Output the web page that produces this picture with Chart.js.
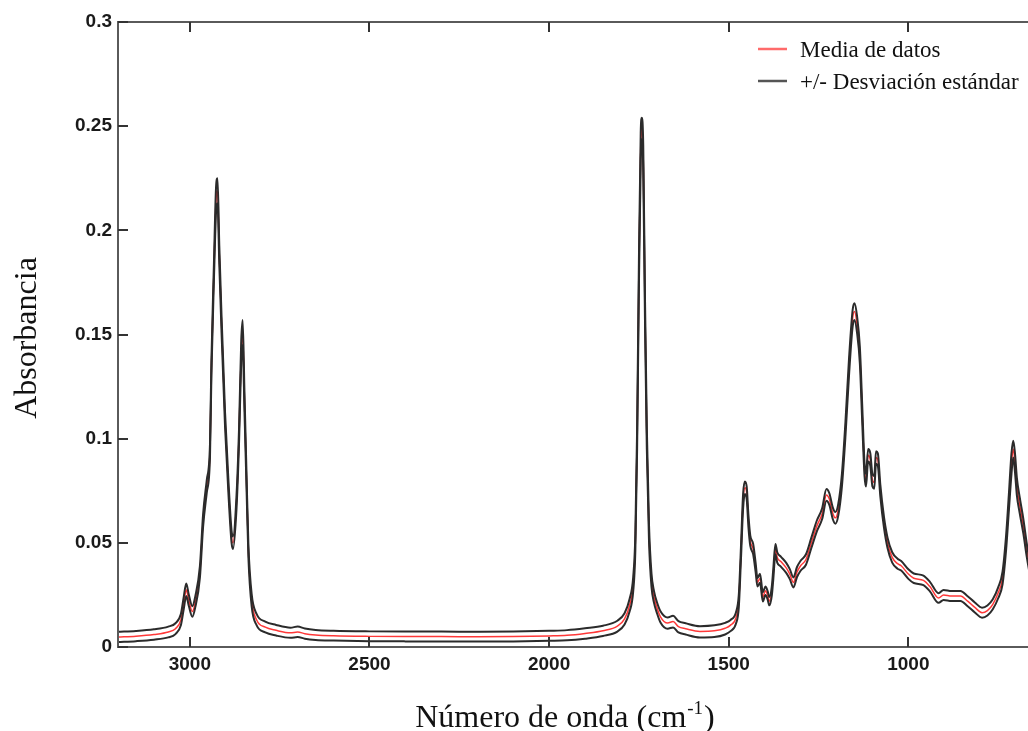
<!DOCTYPE html>
<html lang="es">
<head>
<meta charset="utf-8">
<title>Espectro FTIR</title>
<script src="https://cdn.jsdelivr.net/npm/chart.js@4.4.1/dist/chart.umd.min.js"></script>
<style>
  html, body { margin: 0; padding: 0; background: #fff; }
  #wrap { width: 1028px; height: 731px; position: relative; }
</style>
</head>
<body>
<div id="wrap"><canvas id="espectro"></canvas></div>
<script>
// Número de onda (cm-1)
const numeroOnda = [
  3200, 3150, 3100, 3060, 3040, 3025, 3017, 3010, 3003, 2993,
  2985, 2972, 2963, 2953, 2944, 2940, 2933, 2927, 2923, 2918,
  2912, 2902, 2893, 2884, 2880, 2870, 2863, 2857, 2853, 2848,
  2842, 2837, 2828, 2814, 2790, 2760, 2720, 2700, 2680, 2650,
  2600, 2500, 2400, 2300, 2200, 2100, 2000, 1950, 1900, 1850,
  1810, 1790, 1776, 1766, 1760, 1755, 1750, 1745, 1742, 1738,
  1733, 1728, 1722, 1715, 1708, 1700, 1690, 1670, 1655, 1640,
  1620, 1580, 1540, 1510, 1495, 1480, 1472, 1466, 1460, 1455,
  1450, 1445, 1440, 1432, 1425, 1420, 1413, 1405, 1398, 1392,
  1387, 1380, 1376, 1370, 1365, 1355, 1340, 1330, 1320, 1310,
  1300, 1285, 1270, 1255, 1240, 1228, 1220, 1210, 1203, 1195,
  1185, 1175, 1165, 1155, 1150, 1143, 1135, 1128, 1122, 1118,
  1112, 1106, 1100, 1095, 1090, 1085, 1078, 1068, 1058, 1045,
  1030, 1020, 1000, 985, 958, 940, 916, 902, 880, 855,
  835, 815, 795, 780, 765, 750, 738, 728, 720, 713,
  708, 703, 698, 690, 680, 670, 660
];

// Media de datos
const media = [
  0.0048, 0.0052, 0.0060, 0.0072, 0.0088, 0.0130, 0.0210, 0.0275, 0.0225, 0.0170,
  0.0215, 0.0360, 0.0610, 0.0770, 0.0940, 0.1340, 0.1800, 0.2150, 0.2190, 0.1880,
  0.1560, 0.1090, 0.0780, 0.0530, 0.0500, 0.0700, 0.1020, 0.1420, 0.1510, 0.1180,
  0.0780, 0.0460, 0.0225, 0.0130, 0.0095, 0.0080, 0.0068, 0.0072, 0.0064, 0.0058,
  0.0054, 0.0051, 0.0050, 0.0050, 0.0049, 0.0050, 0.0053, 0.0056, 0.0065, 0.0078,
  0.0100, 0.0135, 0.0200, 0.0300, 0.0500, 0.1000, 0.1800, 0.2400, 0.2490, 0.2350,
  0.1600, 0.1000, 0.0550, 0.0320, 0.0240, 0.0190, 0.0145, 0.0115, 0.0122, 0.0098,
  0.0088, 0.0075, 0.0078, 0.0090, 0.0105, 0.0140, 0.0220, 0.0450, 0.0700, 0.0765,
  0.0740, 0.0600, 0.0510, 0.0470, 0.0380, 0.0310, 0.0330, 0.0240, 0.0270, 0.0250,
  0.0220, 0.0270, 0.0350, 0.0470, 0.0430, 0.0410, 0.0380, 0.0350, 0.0310, 0.0360,
  0.0390, 0.0420, 0.0500, 0.0580, 0.0640, 0.0730, 0.0710, 0.0640, 0.0620, 0.0660,
  0.0800, 0.1050, 0.1350, 0.1580, 0.1610, 0.1550, 0.1400, 0.1100, 0.0850, 0.0800,
  0.0920, 0.0900, 0.0800, 0.0790, 0.0910, 0.0900, 0.0750, 0.0600, 0.0500, 0.0430,
  0.0400, 0.0390, 0.0350, 0.0330, 0.0320, 0.0290, 0.0235, 0.0250, 0.0245, 0.0245,
  0.0220, 0.0190, 0.0165, 0.0175, 0.0205, 0.0260, 0.0330, 0.0500, 0.0700, 0.0880,
  0.0950, 0.0880, 0.0770, 0.0680, 0.0580, 0.0460, 0.0360
];

// +/- Desviación estándar (curva superior)
const desvSup = [
  0.0073, 0.0077, 0.0085, 0.0098, 0.0114, 0.0158, 0.0240, 0.0305, 0.0252, 0.0196,
  0.0242, 0.0388, 0.0640, 0.0800, 0.0972, 0.1375, 0.1840, 0.2210, 0.2250, 0.1925,
  0.1600, 0.1125, 0.0812, 0.0560, 0.0530, 0.0732, 0.1055, 0.1470, 0.1570, 0.1225,
  0.0815, 0.0490, 0.0255, 0.0158, 0.0122, 0.0106, 0.0093, 0.0098, 0.0089, 0.0082,
  0.0078, 0.0075, 0.0074, 0.0074, 0.0073, 0.0074, 0.0078, 0.0081, 0.0090, 0.0102,
  0.0126, 0.0162, 0.0230, 0.0335, 0.0540, 0.1050, 0.1860, 0.2470, 0.2540, 0.2410,
  0.1660, 0.1050, 0.0590, 0.0352, 0.0268, 0.0216, 0.0172, 0.0142, 0.0150, 0.0124,
  0.0114, 0.0100, 0.0104, 0.0116, 0.0130, 0.0166, 0.0250, 0.0480, 0.0735, 0.0795,
  0.0770, 0.0628, 0.0535, 0.0495, 0.0402, 0.0330, 0.0352, 0.0262, 0.0290, 0.0270,
  0.0240, 0.0292, 0.0375, 0.0495, 0.0455, 0.0434, 0.0404, 0.0374, 0.0334, 0.0384,
  0.0414, 0.0445, 0.0525, 0.0606, 0.0666, 0.0758, 0.0738, 0.0668, 0.0648, 0.0688,
  0.0830, 0.1085, 0.1390, 0.1620, 0.1650, 0.1590, 0.1440, 0.1140, 0.0880, 0.0830,
  0.0950, 0.0930, 0.0830, 0.0820, 0.0940, 0.0930, 0.0778, 0.0626, 0.0525, 0.0455,
  0.0424, 0.0413, 0.0373, 0.0353, 0.0343, 0.0313, 0.0258, 0.0274, 0.0269, 0.0269,
  0.0244, 0.0214, 0.0189, 0.0199, 0.0229, 0.0286, 0.0360, 0.0535, 0.0740, 0.0930,
  0.0990, 0.0925, 0.0812, 0.0718, 0.0615, 0.0492, 0.0390
];

// +/- Desviación estándar (curva inferior)
const desvInf = [
  0.0024, 0.0028, 0.0035, 0.0046, 0.0062, 0.0104, 0.0182, 0.0245, 0.0198, 0.0145,
  0.0190, 0.0333, 0.0580, 0.0740, 0.0908, 0.1305, 0.1760, 0.2090, 0.2130, 0.1835,
  0.1520, 0.1055, 0.0748, 0.0502, 0.0470, 0.0668, 0.0985, 0.1370, 0.1450, 0.1135,
  0.0745, 0.0430, 0.0196, 0.0104, 0.0070, 0.0055, 0.0044, 0.0048, 0.0040, 0.0034,
  0.0031, 0.0028, 0.0027, 0.0027, 0.0026, 0.0027, 0.0030, 0.0032, 0.0040, 0.0053,
  0.0074, 0.0108, 0.0170, 0.0265, 0.0460, 0.0950, 0.1740, 0.2330, 0.2440, 0.2290,
  0.1540, 0.0950, 0.0510, 0.0288, 0.0212, 0.0164, 0.0118, 0.0088, 0.0094, 0.0070,
  0.0060, 0.0046, 0.0048, 0.0060, 0.0076, 0.0112, 0.0190, 0.0420, 0.0665, 0.0735,
  0.0710, 0.0572, 0.0485, 0.0445, 0.0358, 0.0290, 0.0308, 0.0218, 0.0250, 0.0230,
  0.0200, 0.0248, 0.0325, 0.0445, 0.0405, 0.0386, 0.0356, 0.0326, 0.0286, 0.0336,
  0.0366, 0.0395, 0.0475, 0.0554, 0.0614, 0.0702, 0.0682, 0.0612, 0.0592, 0.0632,
  0.0770, 0.1015, 0.1310, 0.1540, 0.1570, 0.1510, 0.1360, 0.1060, 0.0820, 0.0770,
  0.0890, 0.0870, 0.0770, 0.0760, 0.0880, 0.0870, 0.0722, 0.0574, 0.0475, 0.0405,
  0.0376, 0.0367, 0.0327, 0.0307, 0.0297, 0.0267, 0.0212, 0.0226, 0.0221, 0.0221,
  0.0196, 0.0166, 0.0141, 0.0151, 0.0181, 0.0234, 0.0300, 0.0465, 0.0660, 0.0830,
  0.0910, 0.0835, 0.0728, 0.0642, 0.0545, 0.0428, 0.0330
];

const ticksX = [3000, 2500, 2000, 1500, 1000];
const ticksY = [0, 0.05, 0.1, 0.15, 0.2, 0.25, 0.3];
const etiquetasY = ['0', '0.05', '0.1', '0.15', '0.2', '0.25', '0.3'];

const serif = '"Liberation Serif", "Times New Roman", serif';
const sans = '"Liberation Sans", Arial, sans-serif';

const pares = arr => numeroOnda.map((x, i) => ({ x, y: arr[i] }));

// Marco, ticks hacia dentro, títulos y leyenda
const decorado = {
  id: 'decorado',
  afterDraw(chart) {
    const { ctx, chartArea: ca, scales } = chart;
    const sx = scales.x, sy = scales.y;
    ctx.save();
    ctx.strokeStyle = '#5a5a5a';
    ctx.lineWidth = 2;
    ctx.beginPath();
    ctx.moveTo(ca.right, ca.top); ctx.lineTo(ca.left, ca.top);
    ctx.lineTo(ca.left, ca.bottom); ctx.lineTo(ca.right, ca.bottom);
    ctx.stroke();

    ctx.strokeStyle = '#333';
    ctx.beginPath();
    ticksX.forEach(v => {
      const px = Math.round(sx.getPixelForValue(v));
      ctx.moveTo(px, ca.bottom); ctx.lineTo(px, ca.bottom - 10);
      ctx.moveTo(px, ca.top); ctx.lineTo(px, ca.top + 10);
    });
    ticksY.forEach(v => {
      const py = Math.round(sy.getPixelForValue(v));
      ctx.moveTo(ca.left, py); ctx.lineTo(ca.left + 10, py);
    });
    ctx.stroke();

    // título eje Y
    ctx.fillStyle = '#111';
    ctx.font = '32px ' + serif;
    ctx.textAlign = 'center';
    ctx.textBaseline = 'alphabetic';
    ctx.save();
    ctx.translate(36, 338);
    ctx.rotate(-Math.PI / 2);
    ctx.fillText('Absorbancia', 0, 0);
    ctx.restore();

    // título eje X con superíndice
    const a = 'Número de onda (cm', sup = '-1', b = ')';
    ctx.font = '32px ' + serif;
    const wa = ctx.measureText(a).width, wb = ctx.measureText(b).width;
    ctx.font = '19px ' + serif;
    const ws = ctx.measureText(sup).width;
    let x0 = 564 - (wa + ws + wb) / 2;
    const base = 727;
    ctx.textAlign = 'left';
    ctx.font = '32px ' + serif;
    ctx.fillText(a, x0, base);
    ctx.font = '19px ' + serif;
    ctx.fillText(sup, x0 + wa + 1, base - 13);
    ctx.font = '32px ' + serif;
    ctx.fillText(b, x0 + wa + ws + 2, base);

    // leyenda
    const items = [
      { text: 'Media de datos', color: '#ff6a6a', y: 49 },
      { text: '+/- Desviación estándar', color: '#555', y: 81 }
    ];
    ctx.font = '23px ' + serif;
    ctx.textBaseline = 'middle';
    items.forEach(it => {
      ctx.strokeStyle = it.color;
      ctx.lineWidth = 2.5;
      ctx.beginPath();
      ctx.moveTo(758, it.y); ctx.lineTo(787, it.y);
      ctx.stroke();
      ctx.fillStyle = '#111';
      ctx.fillText(it.text, 800, it.y + 2);
    });
    ctx.restore();
  }
};

new Chart(document.getElementById('espectro'), {
  type: 'line',
  data: {
    datasets: [
      { label: 'Media de datos', data: pares(media), borderColor: '#ff3838', borderWidth: 1.5, order: 2 },
      { label: '+/- Desviación estándar', data: pares(desvSup), borderColor: '#2b2b2b', borderWidth: 2, order: 1 },
      { label: 'inferior', data: pares(desvInf), borderColor: '#2b2b2b', borderWidth: 2, order: 1 }
    ]
  },
  options: {
    responsive: true,
    maintainAspectRatio: false,
    animation: false,
    elements: {
      point: { radius: 0 },
      line: { tension: 0.3, cubicInterpolationMode: 'monotone' }
    },
    layout: { padding: { top: 22, right: 0, left: 0, bottom: 0 } },
    plugins: { legend: { display: false }, tooltip: { enabled: false } },
    scales: {
      x: {
        type: 'linear',
        reverse: true,
        min: 667,
        max: 3200,
        grid: { display: false, drawTicks: false },
        border: { display: false },
        afterBuildTicks: s => { s.ticks = ticksX.map(v => ({ value: v })); },
        afterFit: s => { s.height = 84; },
        ticks: {
          padding: 6,
          color: '#1a1a1a',
          font: { family: sans, size: 19, weight: 'bold' },
          callback: v => String(v)
        }
      },
      y: {
        min: 0,
        max: 0.3,
        grid: { display: false, drawTicks: false },
        border: { display: false },
        afterBuildTicks: s => { s.ticks = ticksY.map(v => ({ value: v })); },
        afterFit: s => { s.width = 118; },
        ticks: {
          padding: 6,
          color: '#1a1a1a',
          font: { family: sans, size: 19, weight: 'bold' },
          callback: v => etiquetasY[ticksY.indexOf(v)] ?? ''
        }
      }
    }
  },
  plugins: [decorado]
});
</script>
</body>
</html>
